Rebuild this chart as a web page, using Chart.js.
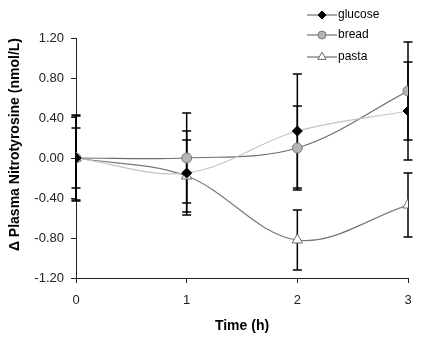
<!DOCTYPE html>
<html><head><meta charset="utf-8">
<script src="https://cdn.jsdelivr.net/npm/chart.js@4"></script>
<style>html,body{margin:0;padding:0;background:#fff}#wrap{width:435px;height:338px;position:relative}</style>
</head>
<body><div id="wrap"><canvas id="c" width="435" height="338"></canvas></div>
<script>
const timeHours = [0, 1, 2, 3];
const seriesNames = ['glucose', 'bread', 'pasta'];
const glucose = [0, -0.15, 0.27, 0.47];
const glucoseErr = [0.43, 0.42, 0.57, 0.49];
const bread = [0, 0.00, 0.10, 0.67];
const breadErr = [0.30, 0.45, 0.42, 0.49];
const pasta = [0, -0.18, -0.82, -0.47];
const pastaErr = [0.42, 0.36, 0.30, 0.32];
const yTicks = [-1.2, -0.8, -0.4, 0, 0.4, 0.8, 1.2];
const xTicks = [0, 1, 2, 3];

const FONT = "'Liberation Sans', Arial, sans-serif";
const pts = (vals) => timeHours.map((t, i) => ({x: t, y: vals[i]}));

const errorBars = {
  id: 'errorBars',
  beforeDatasetsDraw(chart) {
    const ctx = chart.ctx, xs = chart.scales.x, ys = chart.scales.y;
    ctx.save();
    ctx.strokeStyle = '#000';
    ctx.lineWidth = 1.5;
    chart.data.datasets.forEach(ds => {
      ds.data.forEach((p, i) => {
        const e = ds.errors[i];
        const x = xs.getPixelForValue(p.x);
        const yt = ys.getPixelForValue(p.y + e);
        const yb = ys.getPixelForValue(p.y - e);
        ctx.beginPath();
        ctx.moveTo(x, yt); ctx.lineTo(x, yb);
        ctx.moveTo(x - 4.5, yt); ctx.lineTo(x + 4.5, yt);
        ctx.moveTo(x - 4.5, yb); ctx.lineTo(x + 4.5, yb);
        ctx.stroke();
      });
    });
    ctx.restore();
  }
};

const customLegend = {
  id: 'customLegend',
  afterDraw(chart) {
    const ctx = chart.ctx;
    const x0 = 307, x1 = 337, rows = [15, 35, 57];
    chart.data.datasets.forEach((ds, i) => {
      const y = rows[i];
      ctx.save();
      ctx.strokeStyle = '#555';
      ctx.lineWidth = 1;
      ctx.beginPath(); ctx.moveTo(x0, y); ctx.lineTo(x1, y); ctx.stroke();
      ctx.fillStyle = ds.pointBackgroundColor;
      ctx.strokeStyle = ds.pointBorderColor;
      ctx.lineWidth = ds.pointBorderWidth;
      Chart.helpers.drawPoint(ctx, {
        pointStyle: ds.pointStyle, radius: ds.pointRadius * 0.8, rotation: 0,
        borderWidth: ds.pointBorderWidth
      }, (x0 + x1) / 2, y);
      ctx.fillStyle = '#000';
      ctx.font = '12px ' + FONT;
      ctx.textBaseline = 'middle';
      ctx.textAlign = 'left';
      ctx.fillText(ds.label, x1 + 1, y);
      ctx.restore();
    });
  }
};

new Chart(document.getElementById('c'), {
  type: 'line',
  data: {
    datasets: [
      {label: seriesNames[0], data: pts(glucose), errors: glucoseErr,
       borderColor: '#c4c4c4', borderWidth: 1.2, tension: 0.35,
       pointStyle: 'rectRot', pointRadius: 5, pointBackgroundColor: '#000', pointBorderColor: '#000', pointBorderWidth: 1},
      {label: seriesNames[1], data: pts(bread), errors: breadErr,
       borderColor: '#6e6e6e', borderWidth: 1.2, tension: 0.35,
       pointStyle: 'circle', pointRadius: 5, pointBackgroundColor: '#b4b4b4', pointBorderColor: '#7a7a7a', pointBorderWidth: 1},
      {label: seriesNames[2], data: pts(pasta), errors: pastaErr,
       borderColor: '#7a7a7a', borderWidth: 1.2, tension: 0.35,
       pointStyle: 'triangle', pointRadius: 6, pointBackgroundColor: '#fff', pointBorderColor: '#6a6a6a', pointBorderWidth: 1}
    ]
  },
  options: {
    responsive: false,
    animation: false,
    layout: {padding: {top: 38, right: 27, left: 0, bottom: 0}},
    plugins: {legend: {display: false}, tooltip: {enabled: false}},
    scales: {
      x: {
        type: 'linear', min: 0, max: 3,
        afterBuildTicks: s => { s.ticks = xTicks.map(v => ({value: v})); },
        afterFit: s => { s.height = 60; },
        grid: {display: true, drawOnChartArea: false, drawTicks: true, tickLength: 5, color: '#222'},
        border: {display: true, color: '#222', width: 1},
        ticks: {color: '#222', font: {family: FONT, size: 13}, padding: 10, callback: v => String(v)},
        title: {display: true, text: 'Time (h)', color: '#000', font: {family: FONT, size: 14, weight: 'bold'}, padding: {top: 0, bottom: 3}}
      },
      y: {
        type: 'linear', min: -1.2, max: 1.2,
        afterBuildTicks: s => { s.ticks = yTicks.map(v => ({value: v})); },
        afterFit: s => { s.width = 76; },
        grid: {display: true, drawOnChartArea: false, drawTicks: true, tickLength: 5, color: '#222'},
        border: {display: true, color: '#222', width: 1},
        ticks: {color: '#222', font: {family: FONT, size: 13}, padding: 7,
                callback: v => (Math.abs(v) < 1e-9 ? 0 : v).toFixed(2)},
        title: {display: true, text: 'Δ Plasma Nitrotyrosine (nmol/L)', align: 'end', color: '#000', font: {family: FONT, size: 14, weight: 'bold'}, padding: {top: 7, bottom: 0}}
      }
    }
  },
  plugins: [errorBars, customLegend]
});
</script>
</body></html>
